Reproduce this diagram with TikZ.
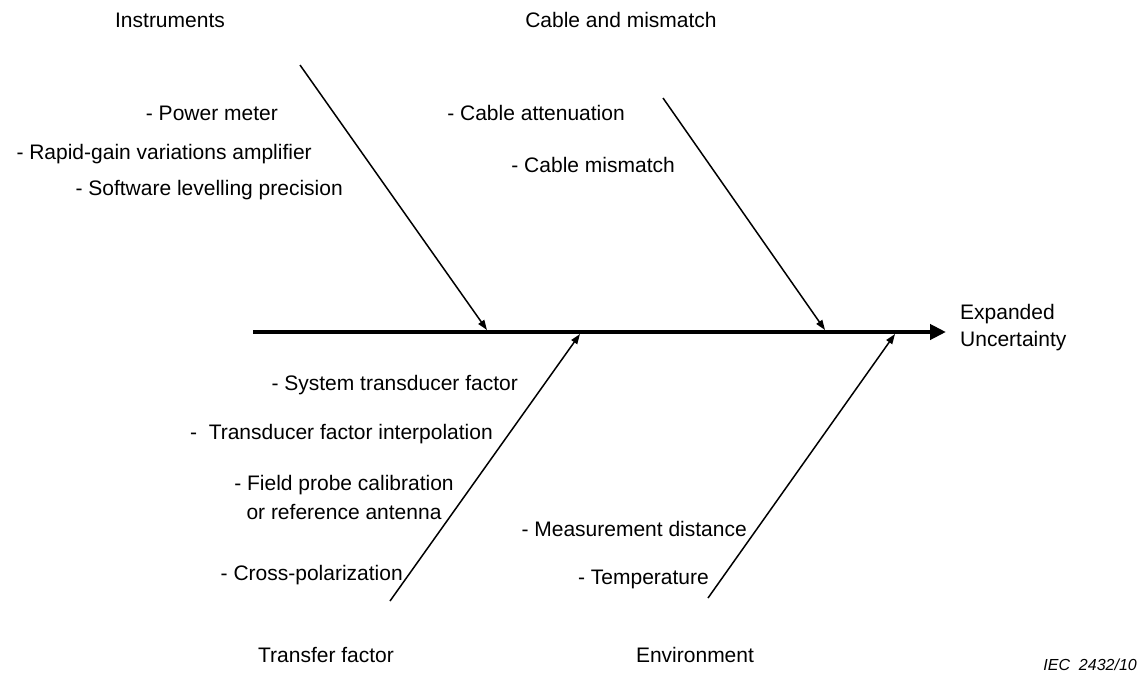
\documentclass[tikz,border=0pt]{standalone}
\usepackage{fontspec}
\setmainfont{Liberation Sans}
\usetikzlibrary{arrows.meta}
\tikzset{
  cause/.style={inner sep=0pt, font=\fontsize{21}{27}\selectfont},
  item/.style={cause, anchor=base east},
  head/.style={cause, anchor=base},
  bone/.style={line width=1.5pt, -{Triangle[length=10pt,width=7pt]}},
  spine/.style={line width=4pt, -{Triangle[length=16pt,width=15pt]}}
}

\begin{document}
\begin{tikzpicture}[x=1pt, y=-1pt]
\useasboundingbox (0,0) rectangle (1140,681);

\coordinate (tail) at (253,332);
\coordinate (tip) at (946,332);
\draw[spine] (tail) -- (tip);
\node[cause, anchor=west, align=left] (effect) at (960,328) {Expanded\\Uncertainty};

\coordinate (instTop) at (300,65);
\coordinate (instEnd) at (487,330);
\coordinate (cabTop) at (663,98);
\coordinate (cabEnd) at (825,330);
\coordinate (trfBot) at (390,601);
\coordinate (trfEnd) at (580,334);
\coordinate (envBot) at (708,598);
\coordinate (envEnd) at (895,334);
\draw[bone] (instTop) -- (instEnd);
\draw[bone] (cabTop) -- (cabEnd);
\draw[bone] (trfBot) -- (trfEnd);
\draw[bone] (envBot) -- (envEnd);

\node[head] (inst) at (170,27) {Instruments};
\node[head] (cab) at (621,27) {Cable and mismatch};
\node[head] (trf) at (326,662) {Transfer factor};
\node[head] (env) at (695,662) {Environment};

\node[item] (pm) at (278,120) {- Power meter};
\node[item] (rg) at (312,159) {- Rapid-gain variations amplifier};
\node[item] (sw) at (343,195) {- Software levelling precision};
\node[item] (ca) at (625,120) {- Cable attenuation};
\node[item] (cm) at (675,172) {- Cable mismatch};
\node[item] (st) at (518,390) {- System transducer factor};
\node[item] (ti) at (493,439) {- \ Transducer factor interpolation};
\node[cause, align=center, font=\fontsize{21}{29}\selectfont] (fp) at (344,497) {- Field probe calibration\\or reference antenna};
\node[item] (cp) at (403,580) {- Cross-polarization};
\node[item] (md) at (747,536) {- Measurement distance};
\node[item] (tp) at (709,584) {- Temperature};

\node[inner sep=0pt, anchor=base east, font=\fontsize{16}{18}\selectfont\itshape] (iec) at (1137,670) {IEC \ 2432/10};
\end{tikzpicture}
\end{document}
